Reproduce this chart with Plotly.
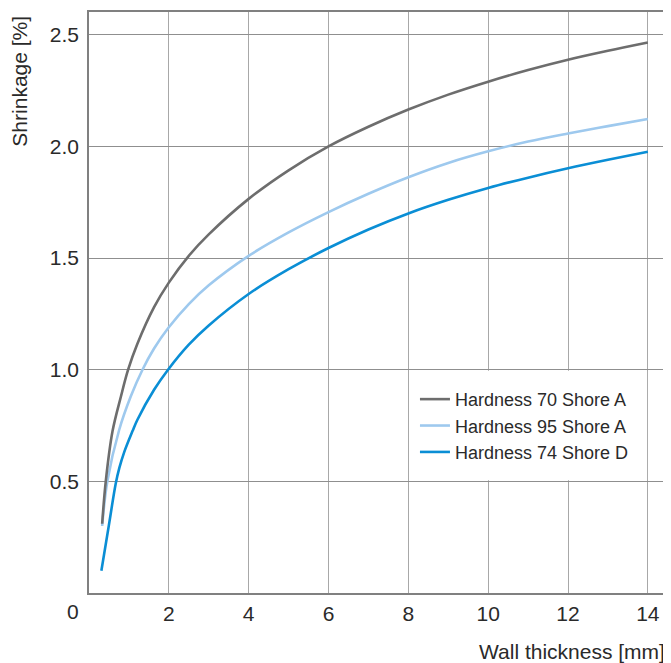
import plotly.graph_objects as go

# Data
x_70a = [0.33, 0.42, 0.59, 0.80, 0.98, 1.21, 1.63, 2.0, 2.5, 3, 4, 5, 6, 7, 8, 9, 10, 11, 12, 13, 14]
y_70a = [0.31, 0.50, 0.725, 0.88, 1.00, 1.115, 1.28, 1.39, 1.51, 1.606, 1.765, 1.893, 2.0, 2.088, 2.165, 2.232, 2.29, 2.342, 2.388, 2.428, 2.465]

x_95a = [0.33, 0.46, 0.755, 1.045, 1.34, 1.63, 2.0, 2.5, 3, 4, 5, 6, 7, 8, 9, 10, 11, 12, 13, 14]
y_95a = [0.30, 0.50, 0.73, 0.88, 1.00, 1.095, 1.19, 1.294, 1.378, 1.51, 1.615, 1.706, 1.788, 1.862, 1.926, 1.978, 2.022, 2.058, 2.091, 2.123]

x_74d = [0.31, 0.495, 0.67, 0.76, 0.88, 1.09, 1.21, 1.63, 1.98, 2.5, 3, 4, 5, 6, 7, 8, 9, 10, 11, 12, 13, 14]
y_74d = [0.10, 0.30, 0.49, 0.56, 0.63, 0.725, 0.775, 0.91, 1.00, 1.112, 1.198, 1.339, 1.45, 1.545, 1.628, 1.700, 1.761, 1.814, 1.86, 1.902, 1.94, 1.976]

names = ["Hardness 70 Shore A", "Hardness 95 Shore A", "Hardness 74 Shore D"]
colors = ["#6d6d6d", "#9ec9ee", "#0a8ed5"]

x_ticks = [2, 4, 6, 8, 10, 12, 14]
y_ticks = [0.5, 1.0, 1.5, 2.0, 2.5]
y_ticklabels = ["0.5", "1.0", "1.5", "2.0", "2.5"]

FONT = "Liberation Sans, Arial, sans-serif"
TXT = "#2a2a2a"

fig = go.Figure()
# draw order: light blue, blue, then gray on top
fig.add_trace(go.Scatter(x=x_95a, y=y_95a, mode="lines", name=names[1], legendrank=2,
                         line=dict(color=colors[1], width=2.6, shape="spline", smoothing=1.0)))
fig.add_trace(go.Scatter(x=x_74d, y=y_74d, mode="lines", name=names[2], legendrank=3,
                         line=dict(color=colors[2], width=2.6, shape="spline", smoothing=1.0)))
fig.add_trace(go.Scatter(x=x_70a, y=y_70a, mode="lines", name=names[0], legendrank=1,
                         line=dict(color=colors[0], width=2.6, shape="spline", smoothing=1.0)))

# white box behind legend, covering interior grid lines
fig.add_shape(type="rect", xref="x", yref="y", x0=8.02, x1=13.98, y0=0.505, y1=0.995,
              fillcolor="white", line=dict(width=0), layer="between")

fig.update_xaxes(range=[0, 14.53], tickvals=x_ticks, showgrid=True, gridcolor="#a8a8a8", gridwidth=1.2,
                 showline=True, linecolor="#808080", linewidth=1.5, mirror=True, zeroline=False,
                 ticks="", ticklabelstandoff=1,
                 tickfont=dict(family=FONT, size=21, color=TXT))
fig.update_yaxes(range=[0, 2.602], tickvals=y_ticks, ticktext=y_ticklabels, showgrid=True,
                 gridcolor="#8f8f8f", gridwidth=1.2,
                 showline=True, linecolor="#808080", linewidth=1.5, mirror=True, zeroline=False,
                 ticks="", ticklabelstandoff=4,
                 tickfont=dict(family=FONT, size=21, color=TXT))

fig.add_annotation(text="0", xref="paper", yref="paper", x=-0.0284, y=-0.0327,
                   xanchor="center", yanchor="middle", showarrow=False,
                   font=dict(family=FONT, size=21, color=TXT))
fig.add_annotation(text="Shrinkage [%]", xref="paper", yref="paper", x=-0.12, y=0.997,
                   xanchor="center", yanchor="top", textangle=-90, showarrow=False,
                   font=dict(family=FONT, size=21, color=TXT))
fig.add_annotation(text="Wall thickness [mm]", xref="paper", yref="paper", x=0.996, y=-0.1015,
                   xanchor="right", yanchor="middle", showarrow=False,
                   font=dict(family=FONT, size=21, color=TXT))

# page body has an 8px default margin, so the figure is sized/placed to compensate
fig.update_layout(
    width=663, height=655,
    margin=dict(l=81, r=0, t=4, b=70),
    paper_bgcolor="white", plot_bgcolor="white",
    showlegend=True,
    legend=dict(x=0.562, y=0.365, xanchor="left", yanchor="top",
                bgcolor="rgba(0,0,0,0)", borderwidth=0,
                font=dict(family=FONT, size=18, color=TXT)),
)

fig.write_html("out.html")
